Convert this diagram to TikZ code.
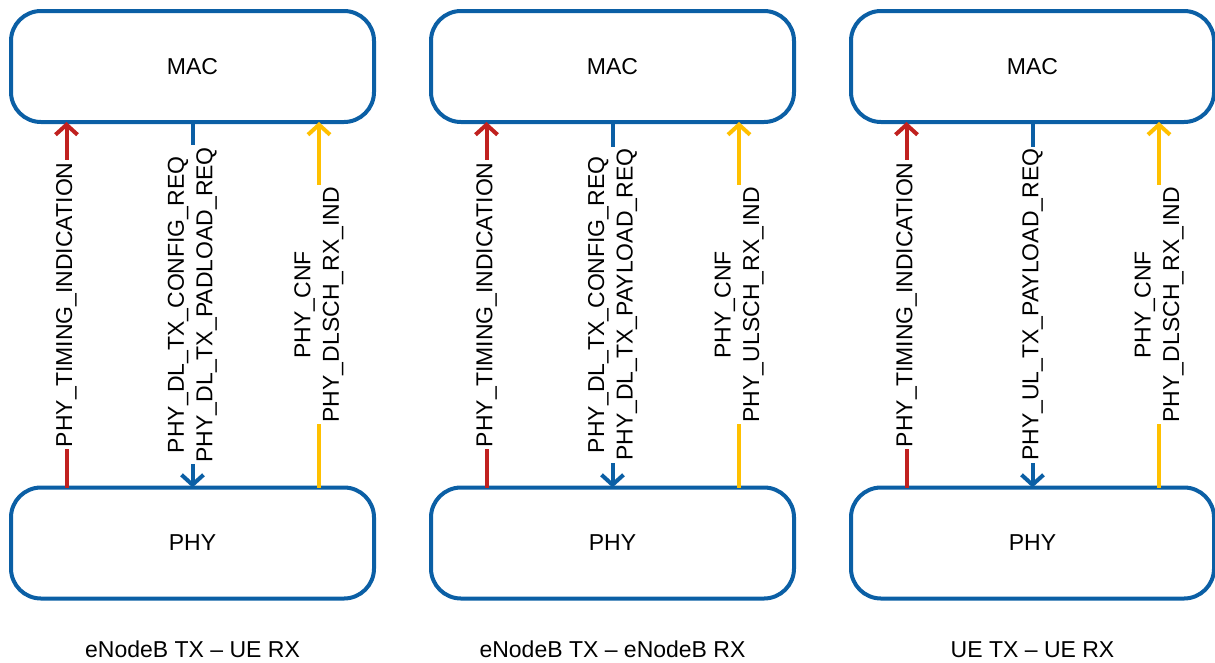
\documentclass[tikz,border=0pt]{standalone}
\usepackage{fontspec}
\setmainfont{Liberation Sans}
\usetikzlibrary{arrows.meta,calc}
\definecolor{boxblue}{HTML}{0B5FA5}
\definecolor{sigred}{HTML}{C0211F}
\definecolor{sigyellow}{HTML}{FFC000}
\begin{document}
\begin{tikzpicture}[x=1pt,y=-1pt,
  box/.style={draw=boxblue, line width=4pt, rounded corners=30pt,
    minimum width=363pt, minimum height=111pt, outer sep=0pt, inner sep=0pt,
    font=\fontsize{23}{28}\selectfont},
  sig/.style={line width=4pt, -{Straight Barb[length=10pt,width=22pt]}},
  lbl/.style={rotate=90, fill=white, inner sep=2pt, align=center,
    font=\fontsize{23}{28.5}\selectfont, text=black},
  ttl/.style={anchor=base, font=\fontsize{23}{28}\selectfont}]
\useasboundingbox (0,0) rectangle (1215,662);

% Panel 1
\node[box] (MAC1) at (192.5,66.5) {MAC};
\node[box] (PHY1) at (192.5,543) {PHY};
\draw[sig, sigred] ($(PHY1.north)+(-126,0)$) -- node[lbl] {PHY\_TIMING\_INDICATION} ($(MAC1.south)+(-126,0)$);
\draw[sig, boxblue] (MAC1.south) -- node[lbl] {PHY\_DL\_TX\_CONFIG\_REQ\\PHY\_DL\_TX\_PADLOAD\_REQ} (PHY1.north);
\draw[sig, sigyellow] ($(PHY1.north)+(126.5,0)$) -- node[lbl] {PHY\_CNF\\PHY\_DLSCH\_RX\_IND} ($(MAC1.south)+(126.5,0)$);
\node[ttl] (T1) at (192.5,657) {eNodeB TX – UE RX};

% Panel 2
\node[box] (MAC2) at (612.5,66.5) {MAC};
\node[box] (PHY2) at (612.5,543) {PHY};
\draw[sig, sigred] ($(PHY2.north)+(-126,0)$) -- node[lbl] {PHY\_TIMING\_INDICATION} ($(MAC2.south)+(-126,0)$);
\draw[sig, boxblue] (MAC2.south) -- node[lbl] {PHY\_DL\_TX\_CONFIG\_REQ\\PHY\_DL\_TX\_PAYLOAD\_REQ} (PHY2.north);
\draw[sig, sigyellow] ($(PHY2.north)+(126.5,0)$) -- node[lbl] {PHY\_CNF\\PHY\_ULSCH\_RX\_IND} ($(MAC2.south)+(126.5,0)$);
\node[ttl] (T2) at (612.5,657) {eNodeB TX – eNodeB RX};

% Panel 3
\node[box] (MAC3) at (1032.5,66.5) {MAC};
\node[box] (PHY3) at (1032.5,543) {PHY};
\draw[sig, sigred] ($(PHY3.north)+(-126,0)$) -- node[lbl] {PHY\_TIMING\_INDICATION} ($(MAC3.south)+(-126,0)$);
\draw[sig, boxblue] (MAC3.south) -- node[lbl] {PHY\_UL\_TX\_PAYLOAD\_REQ} (PHY3.north);
\draw[sig, sigyellow] ($(PHY3.north)+(126.5,0)$) -- node[lbl] {PHY\_CNF\\PHY\_DLSCH\_RX\_IND} ($(MAC3.south)+(126.5,0)$);
\node[ttl] (T3) at (1032.5,657) {UE TX – UE RX};
\end{tikzpicture}
\end{document}
